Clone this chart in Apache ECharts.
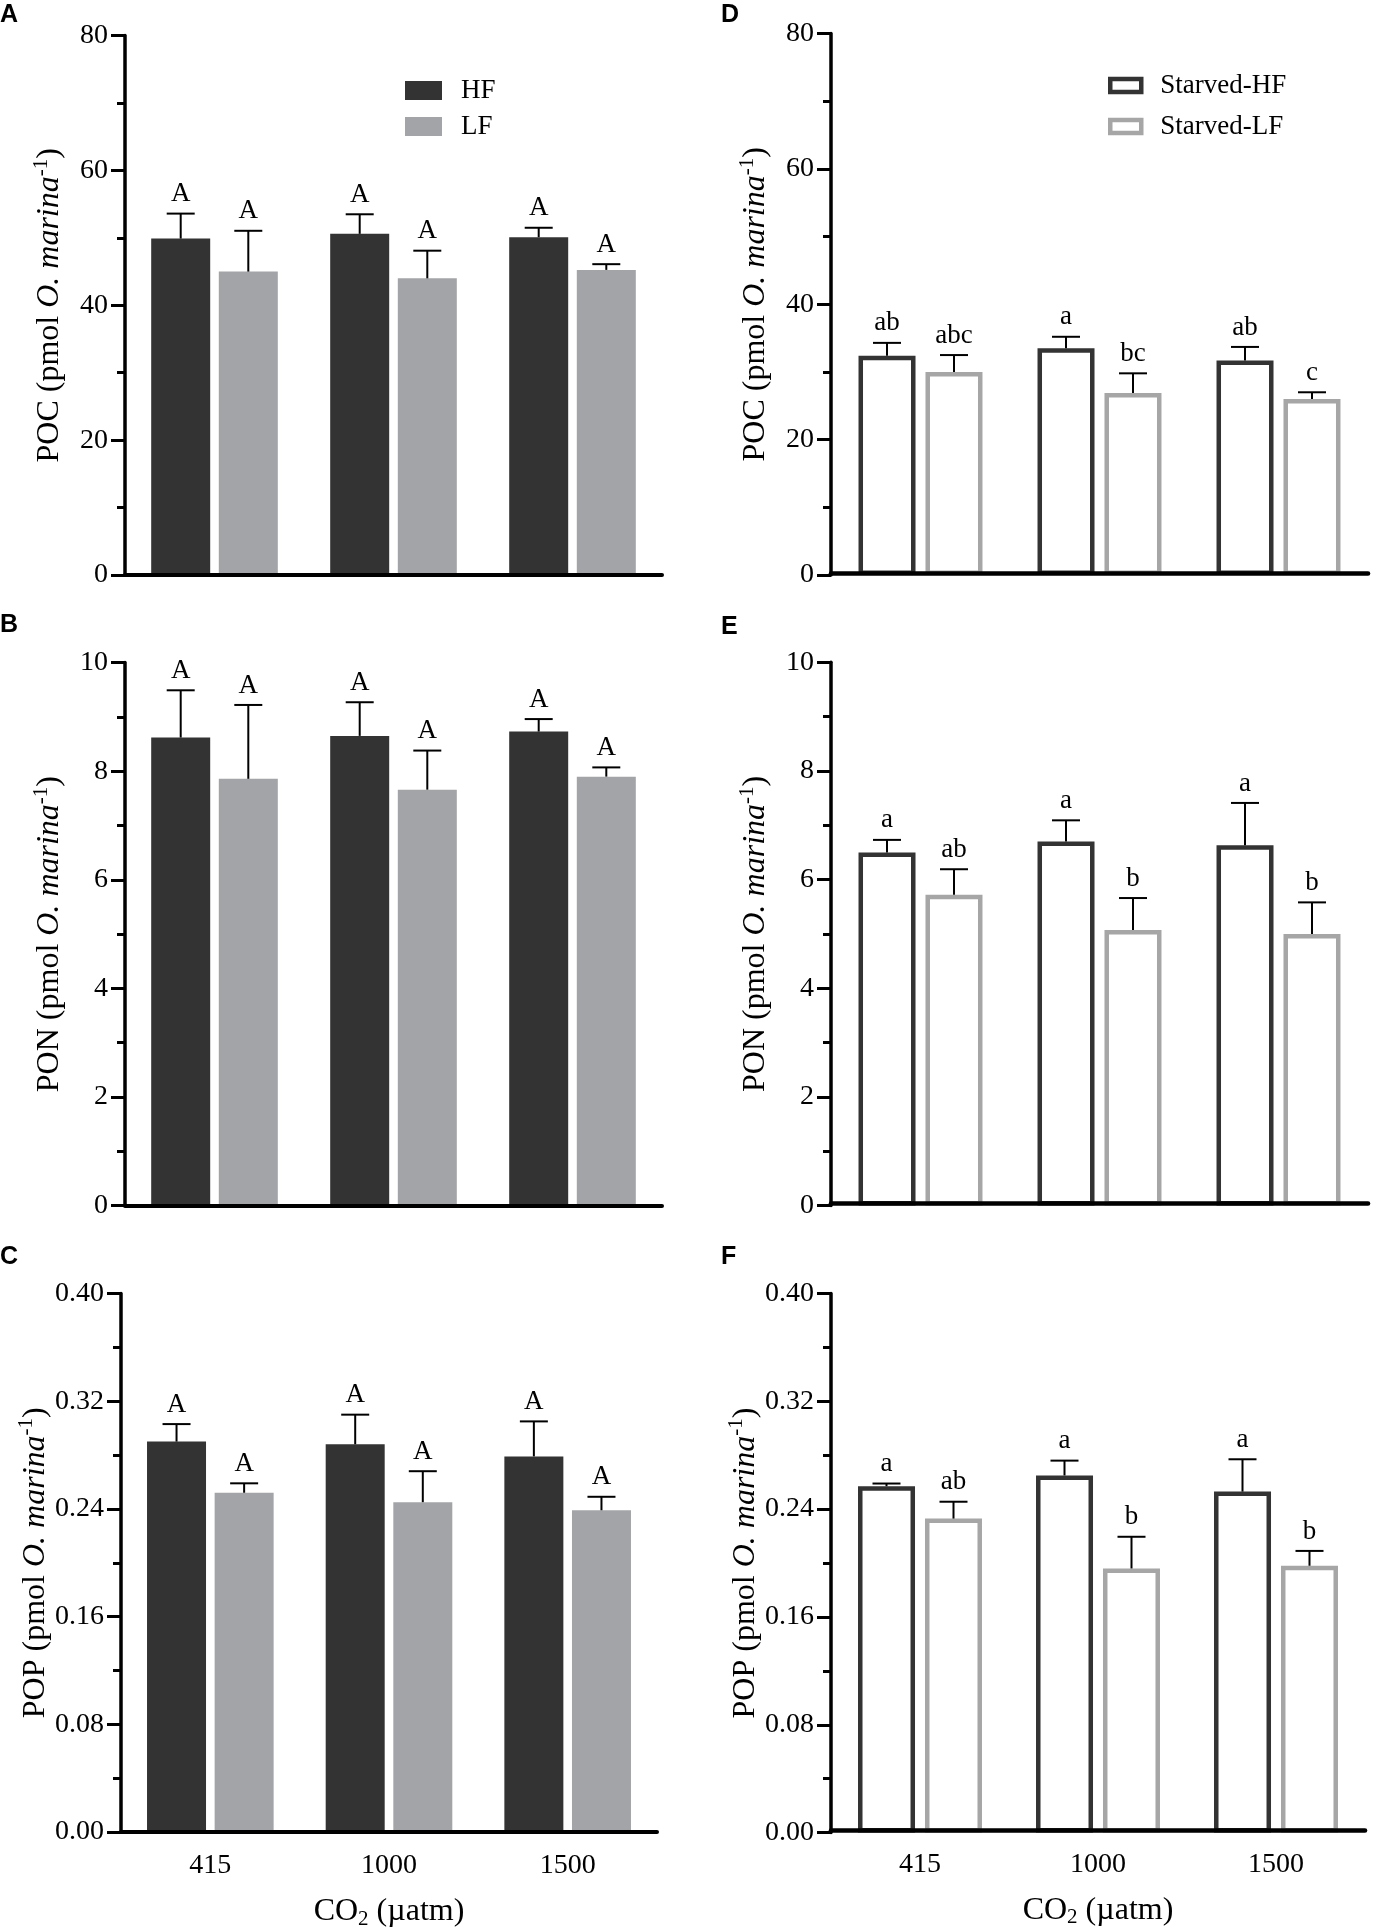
<!DOCTYPE html>
<html>
<head>
<meta charset="utf-8">
<script src="https://cdn.jsdelivr.net/npm/echarts@6/dist/echarts.min.js"></script>
<style>
html,body{margin:0;padding:0;background:#fff;}
#chart{width:1375px;height:1931px;}
</style>
</head>
<body>
<div id="chart"></div>
<script>
// ---------- data ----------
const categories = ['415', '1000', '1500'];

// Panel A: POC, fed
const pocHF = [49.9, 50.6, 50.1];
const pocHFsd = [3.7, 2.9, 1.4];
const pocLF = [45.0, 44.0, 45.25];
const pocLFsd = [6.05, 4.1, 0.85];
const pocHFlet = ['A', 'A', 'A'];
const pocLFlet = ['A', 'A', 'A'];

// Panel B: PON, fed
const ponHF = [8.62, 8.65, 8.73];
const ponHFsd = [0.87, 0.62, 0.23];
const ponLF = [7.86, 7.66, 7.90];
const ponLFsd = [1.36, 0.72, 0.17];
const ponHFlet = ['A', 'A', 'A'];
const ponLFlet = ['A', 'A', 'A'];

// Panel C: POP, fed
const popHF = [0.290, 0.288, 0.279];
const popHFsd = [0.013, 0.022, 0.026];
const popLF = [0.252, 0.245, 0.239];
const popLFsd = [0.007, 0.023, 0.010];
const popHFlet = ['A', 'A', 'A'];
const popLFlet = ['A', 'A', 'A'];

// Panel D: POC, starved
const sPocHF = [32.4, 33.5, 31.7];
const sPocHFsd = [1.9, 1.7, 2.0];
const sPocLF = [30.0, 26.9, 26.0];
const sPocLFsd = [2.5, 2.9, 1.0];
const sPocHFlet = ['ab', 'a', 'ab'];
const sPocLFlet = ['abc', 'bc', 'c'];

// Panel E: PON, starved
const sPonHF = [6.50, 6.70, 6.63];
const sPonHFsd = [0.23, 0.39, 0.78];
const sPonLF = [5.72, 5.07, 5.00];
const sPonLFsd = [0.47, 0.59, 0.58];
const sPonHFlet = ['a', 'a', 'a'];
const sPonLFlet = ['ab', 'b', 'b'];

// Panel F: POP, starved
const sPopHF = [0.257, 0.265, 0.253];
const sPopHFsd = [0.002, 0.011, 0.024];
const sPopLF = [0.233, 0.196, 0.198];
const sPopLFsd = [0.0125, 0.0235, 0.011];
const sPopHFlet = ['a', 'a', 'a'];
const sPopLFlet = ['ab', 'b', 'b'];

// axis ticks (major labelled interval, one minor tick between)
const pocTicks = { max: 80, interval: 20, dec: 0 };
const ponTicks = { max: 10, interval: 2, dec: 0 };
const popTicks = { max: 0.4, interval: 0.08, dec: 2 };

const panelLetters = ['A', 'B', 'C', 'D', 'E', 'F'];
const xTitle = '{n|CO}{b|2}{n| (µatm)}';

// ---------- styling ----------
const FONT = 'Liberation Serif';
const SANS = 'Liberation Sans';
const DARK = '#333333';
const GREY = '#a3a4a7';
const GREY_OUT = '#a6a6a6';

const grids = [
  { left: 125, top: 35.6, width: 537, height: 539.4 },
  { left: 125, top: 662.6, width: 537, height: 543 },
  { left: 121, top: 1293.5, width: 536, height: 539.1 },
  { left: 831, top: 33.6, width: 537, height: 541.4 },
  { left: 831, top: 662.2, width: 537, height: 543.4 },
  { left: 831, top: 1293.5, width: 534, height: 539.1 }
];
const titlePos = [
  { left: 0, top: 3 }, { left: 0, top: 613 }, { left: 0, top: 1245 },
  { left: 721, top: 3 }, { left: 721, top: 615 }, { left: 721, top: 1245 }
];

function yName(prefix) {
  return '{n|' + prefix + ' (pmol }{i|O. marina}{s|-1}{n|)}';
}
const yNameStyle = {
  color: '#000', fontFamily: FONT,
  rich: {
    n: { fontFamily: FONT, fontSize: 32, color: '#000', lineHeight: 38 },
    i: { fontFamily: FONT, fontSize: 32, fontStyle: 'italic', color: '#000', lineHeight: 38 },
    s: { fontFamily: FONT, fontSize: 21, color: '#000', verticalAlign: 'top', lineHeight: 22 }
  }
};
const xNameStyle = {
  color: '#000', fontFamily: FONT,
  rich: {
    n: { fontFamily: FONT, fontSize: 32, color: '#000', lineHeight: 36 },
    b: { fontFamily: FONT, fontSize: 21, color: '#000', verticalAlign: 'bottom', lineHeight: 18 }
  }
};

const xAxes = [], yAxes = [], series = [];

function errSeries(idx, mean, sd, letters, offset) {
  return {
    type: 'custom',
    name: 'err' + idx + '_' + offset,
    xAxisIndex: idx, yAxisIndex: idx,
    z: 5,
    silent: true,
    data: categories.map((c, k) => [k, mean[k], mean[k] + sd[k]]),
    encode: { x: 0, y: [1, 2] },
    renderItem: function (params, api) {
      const k = api.value(0);
      const p0 = api.coord([k, api.value(1)]);
      const p1 = api.coord([k, api.value(2)]);
      const x = p0[0] + offset;
      return {
        type: 'group',
        children: [
          { type: 'line', shape: { x1: x, y1: p0[1], x2: x, y2: p1[1] }, style: { stroke: '#000', lineWidth: 2 } },
          { type: 'line', shape: { x1: x - 14, y1: p1[1], x2: x + 14, y2: p1[1] }, style: { stroke: '#000', lineWidth: 2 } },
          { type: 'text', x: x, y: p1[1] - 6,
            style: { text: letters[params.dataIndex], fontFamily: FONT, fontSize: 27, fill: '#000', align: 'center', verticalAlign: 'bottom' } }
        ]
      };
    }
  };
}

function addPanel(idx, ticks, prefix, hf, hfsd, lf, lfsd, hflet, lflet, outline, showX) {
  xAxes.push({
    gridIndex: idx, type: 'category', data: categories, z: 10,
    offset: outline ? -2.2 : 0,
    axisLine: { lineStyle: { color: '#000', width: outline ? 4.6 : 4 } },
    axisTick: { alignWithLabel: true, length: 14, lineStyle: { color: '#000', width: 3 } },
    axisLabel: { show: showX, margin: 20, fontFamily: FONT, fontSize: 28, color: '#000' },
    name: showX ? xTitle : '',
    nameLocation: 'middle', nameGap: 62,
    nameTextStyle: xNameStyle
  });
  yAxes.push({
    gridIndex: idx, type: 'value', min: 0, max: ticks.max, interval: ticks.interval, z: 10,
    axisLine: { show: true, lineStyle: { color: '#000', width: 3.5 } },
    axisTick: { show: true, length: 14, lineStyle: { color: '#000', width: 3 } },
    minorTick: { show: true, splitNumber: 2, length: 8, lineStyle: { color: '#000', width: 3 } },
    splitLine: { show: false },
    minorSplitLine: { show: false },
    axisLabel: { margin: 17, formatter: (v) => v.toFixed(ticks.dec), fontFamily: FONT, fontSize: 28, color: '#000' },
    name: yName(prefix), nameLocation: 'middle', nameGap: 56,
    nameTextStyle: yNameStyle
  });
  if (!outline) {
    series.push({ type: 'bar', name: 'HF', xAxisIndex: idx, yAxisIndex: idx, data: hf,
      barWidth: 59, barGap: '14.6%', itemStyle: { color: DARK }, z: 2 });
    series.push({ type: 'bar', name: 'LF', xAxisIndex: idx, yAxisIndex: idx, data: lf,
      barWidth: 59, barGap: '14.6%', itemStyle: { color: GREY }, z: 2 });
    series.push(errSeries(idx, hf, hfsd, hflet, -33.8));
    series.push(errSeries(idx, lf, lfsd, lflet, 33.8));
  } else {
    series.push({ type: 'bar', name: 'Starved-HF', xAxisIndex: idx, yAxisIndex: idx, data: hf,
      barWidth: 57, barGap: '17.5%', itemStyle: { color: '#fff', borderColor: DARK, borderWidth: 4.5 }, z: 2 });
    series.push({ type: 'bar', name: 'Starved-LF', xAxisIndex: idx, yAxisIndex: idx, data: lf,
      barWidth: 57, barGap: '17.5%', itemStyle: { color: '#fff', borderColor: GREY_OUT, borderWidth: 4.5 }, z: 2 });
    series.push(errSeries(idx, hf, hfsd, hflet, -33.5));
    series.push(errSeries(idx, lf, lfsd, lflet, 33.5));
  }
}

addPanel(0, pocTicks, 'POC', pocHF, pocHFsd, pocLF, pocLFsd, pocHFlet, pocLFlet, false, false);
addPanel(1, ponTicks, 'PON', ponHF, ponHFsd, ponLF, ponLFsd, ponHFlet, ponLFlet, false, false);
addPanel(2, popTicks, 'POP', popHF, popHFsd, popLF, popLFsd, popHFlet, popLFlet, false, true);
addPanel(3, pocTicks, 'POC', sPocHF, sPocHFsd, sPocLF, sPocLFsd, sPocHFlet, sPocLFlet, true, false);
addPanel(4, ponTicks, 'PON', sPonHF, sPonHFsd, sPonLF, sPonLFsd, sPonHFlet, sPonLFlet, true, false);
addPanel(5, popTicks, 'POP', sPopHF, sPopHFsd, sPopLF, sPopLFsd, sPopHFlet, sPopLFlet, true, true);

const legendText = { fontFamily: FONT, fontSize: 27, color: '#000', padding: [0, 0, 0, 14] };

const option = {
  animation: false,
  backgroundColor: '#fff',
  textStyle: { fontFamily: FONT, color: '#000' },
  title: panelLetters.map((t, i) => ({
    text: t, left: titlePos[i].left, top: titlePos[i].top, padding: 0,
    textStyle: { fontFamily: SANS, fontWeight: 'bold', fontSize: 25, color: '#000' }
  })),
  legend: [
    { orient: 'vertical', left: 400, top: 72, itemWidth: 37, itemHeight: 19, itemGap: 9,
      icon: 'rect', selectedMode: false, data: ['HF', 'LF'], textStyle: legendText },
    { orient: 'vertical', left: 1103, top: 67, itemWidth: 31, itemHeight: 13, itemGap: 14,
      icon: 'rect', selectedMode: false,
      data: [
        { name: 'Starved-HF', itemStyle: { color: '#fff', borderColor: DARK, borderWidth: 4.5 } },
        { name: 'Starved-LF', itemStyle: { color: '#fff', borderColor: GREY_OUT, borderWidth: 4.5 } }
      ],
      textStyle: legendText }
  ],
  grid: grids,
  xAxis: xAxes,
  yAxis: yAxes,
  series: series
};

const chart = echarts.init(document.getElementById('chart'), null, { renderer: 'canvas' });
chart.setOption(option);
</script>
</body>
</html>
